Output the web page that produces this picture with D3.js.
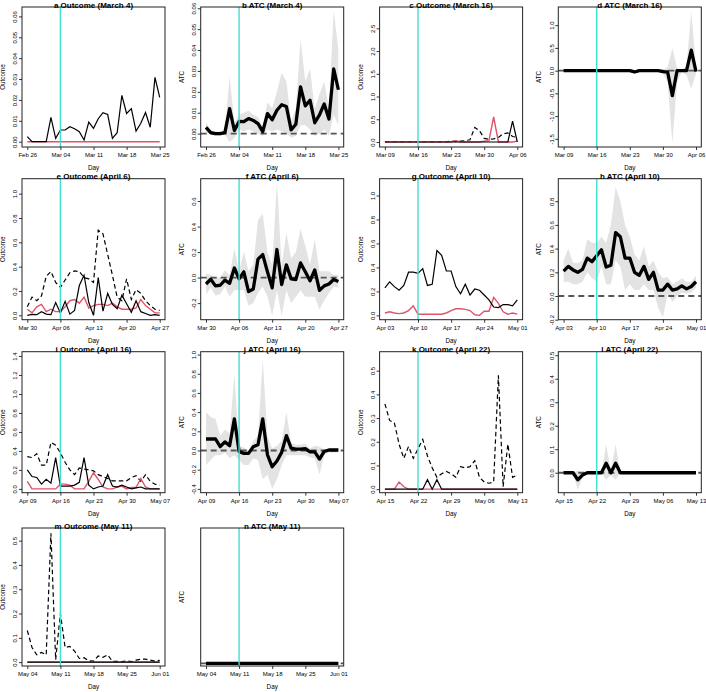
<!DOCTYPE html>
<html>
<head>
<meta charset="utf-8">
<script src="https://cdn.jsdelivr.net/npm/d3@7/dist/d3.min.js"></script>
<style>
  body { margin: 0; background: #fff; }
  svg text { font-family: "Liberation Sans", Arial, Helvetica, sans-serif; }
</style>
</head>
<body>
<div id="d3-cont"></div>
<script>
// values, one per day (29 days per panel)
const aSolid = [0.0024, 0, 0, 0, 0, 0.0116, 0.0016, 0.0056, 0.0056, 0.0072, 0.0062, 0.0048, 0.0008, 0.0094, 0.0064, 0.011, 0.0139, 0.013, 0.0016, 0.0043, 0.0222, 0.0135, 0.0158, 0.0051, 0.0088, 0.014, 0.0069, 0.0308, 0.0212];
const aPink  = [0, 0, 0, 0, 0, 0, 0, 0, 0, 0, 0, 0, 0, 0, 0, 0, 0, 0, 0, 0, 0, 0, 0, 0, 0, 0, 0, 0, 0];

const bAtc   = [0.003, 0.0005, 0, 0, 0.0005, 0.012, 0.0015, 0.0058, 0.0057, 0.0072, 0.0063, 0.0048, 0.001, 0.0096, 0.0066, 0.0112, 0.0138, 0.013, 0.0018, 0.0045, 0.0224, 0.0133, 0.016, 0.0052, 0.009, 0.0142, 0.007, 0.031, 0.021];
const bUpper = [0.0055, 0.0015, 0.001, 0.001, 0.0015, 0.0275, 0.005, 0.009, 0.01, 0.011, 0.009, 0.008, 0.003, 0.015, 0.012, 0.02, 0.029, 0.025, 0.006, 0.012, 0.045, 0.025, 0.031, 0.012, 0.019, 0.025, 0.012, 0.059, 0.04];
const bLower = [0.0005, -0.0005, -0.001, -0.001, -0.0005, -0.004, -0.002, 0.002, 0.001, 0.002, 0.001, 0, -0.001, 0.002, 0.001, 0.002, 0.001, 0, -0.002, -0.001, 0.004, 0.004, 0.002, -0.001, 0, 0.002, -0.001, 0.009, 0.004];

const cDash  = [0.005, 0.005, 0.005, 0.005, 0.005, 0.005, 0.005, 0.005, 0.005, 0.005, 0.005, 0.005, 0.005, 0.005, 0.02, 0.01, 0.02, 0.03, 0.05, 0.32, 0.25, 0.08, 0.06, 0.07, 0.1, 0.18, 0.2, 0.12, 0.1];
const cSolid = [0, 0, 0, 0, 0, 0, 0, 0, 0, 0, 0, 0, 0, 0, 0, 0, 0, 0, 0, 0, 0, 0, 0, 0, 0, 0, 0, 0.46, 0];
const cPink  = [0, 0, 0, 0, 0, 0, 0, 0, 0, 0, 0, 0, 0, 0, 0, 0.03, 0, 0, 0, 0, 0, 0.02, 0.03, 0.55, 0, 0, 0, 0, 0.02];

const dAtc   = [0, 0, 0, 0, 0, 0, 0, 0, 0, 0, 0, 0, 0, 0, 0, -0.03, 0, 0, 0, 0, 0, -0.02, -0.03, -0.55, 0, 0, 0, 0.45, -0.02];
const dUpper = [0.01, 0.01, 0.01, 0.01, 0.01, 0.01, 0.01, 0.01, 0.01, 0.01, 0.01, 0.01, 0.01, 0.01, 0.01, 0, 0.01, 0.01, 0.01, 0.01, 0.01, 0.01, 0.08, 0.5, 0.05, 0.02, 0.1, 1.3, 0.1];
const dLower = [-0.01, -0.01, -0.01, -0.01, -0.01, -0.01, -0.01, -0.01, -0.01, -0.01, -0.01, -0.01, -0.01, -0.01, -0.01, -0.06, -0.01, -0.01, -0.01, -0.01, -0.01, -0.05, -0.25, -1.6, -0.25, -0.02, -0.1, -0.4, -0.06];

const eDash  = [0.07, 0.15, 0.12, 0.16, 0.32, 0.36, 0.27, 0.23, 0.29, 0.35, 0.365, 0.36, 0.31, 0.3, 0.27, 0.7, 0.67, 0.5, 0.33, 0.15, 0.12, 0.3, 0.13, 0.21, 0.18, 0.12, 0.08, 0.05, 0.04];
const eSolid = [0, 0.007, 0.005, 0.03, 0.01, 0.005, 0.105, 0.02, 0.115, 0.01, 0.04, 0.245, 0.33, 0.105, 0, 0.31, 0.035, 0.18, 0.09, 0.055, 0.165, 0.095, 0.025, 0.12, 0.03, 0.015, 0, 0.005, 0];
const ePink  = [0.05, 0.02, 0.07, 0.09, 0.03, 0.05, 0.03, 0.03, 0.07, 0.12, 0.13, 0.1, 0.15, 0.06, 0.08, 0.09, 0.09, 0.08, 0.1, 0.07, 0.05, 0.05, 0.05, 0.06, 0.13, 0.08, 0.05, 0.02, 0.02];

const fAtc   = [-0.05, -0.013, -0.065, -0.06, -0.02, -0.045, 0.075, -0.01, 0.045, -0.11, -0.09, 0.145, 0.18, 0.045, -0.08, 0.22, -0.055, 0.1, -0.01, -0.015, 0.115, 0.045, -0.025, 0.06, -0.1, -0.065, -0.05, -0.015, -0.03];
const fUpper = [0.03, 0.02, 0, 0, 0.06, 0.02, 0.23, 0.05, 0.2, 0.05, 0.1, 0.45, 0.5, 0.2, 0.1, 0.75, 0.1, 0.35, 0.15, 0.2, 0.38, 0.25, 0.1, 0.3, 0.05, 0.05, 0.05, 0.02, 0.02];
const fLower = [-0.13, -0.08, -0.14, -0.13, -0.07, -0.15, -0.1, -0.1, -0.1, -0.22, -0.2, -0.12, -0.07, -0.15, -0.3, -0.1, -0.3, -0.1, -0.2, -0.15, -0.1, -0.15, -0.15, -0.15, -0.25, -0.18, -0.12, -0.07, -0.08];

const gSolid = [0.23, 0.28, 0.24, 0.21, 0.25, 0.36, 0.36, 0.35, 0.39, 0.25, 0.26, 0.54, 0.5, 0.37, 0.37, 0.24, 0.18, 0.26, 0.17, 0.22, 0.21, 0.17, 0.13, 0.07, 0.065, 0.09, 0.09, 0.08, 0.13];
const gPink  = [0.02, 0.03, 0.02, 0.015, 0.02, 0.04, 0.08, 0.01, 0.01, 0.01, 0.01, 0.01, 0.01, 0.02, 0.04, 0.055, 0.055, 0.05, 0.04, 0.005, 0, 0.035, 0.035, 0.15, 0.1, 0.03, 0.01, 0.02, 0.01];

const hAtc   = [0.21, 0.25, 0.22, 0.2, 0.225, 0.32, 0.29, 0.34, 0.39, 0.245, 0.26, 0.535, 0.5, 0.32, 0.32, 0.2, 0.175, 0.25, 0.14, 0.2, 0.05, 0.05, 0.1, 0.05, 0.06, 0.085, 0.06, 0.08, 0.12];
const hUpper = [0.3, 0.4, 0.28, 0.28, 0.3, 0.48, 0.45, 0.45, 0.5, 0.45, 0.6, 0.92, 0.8, 0.6, 0.5, 0.35, 0.3, 0.42, 0.25, 0.3, 0.2, 0.15, 0.16, 0.1, 0.12, 0.15, 0.12, 0.12, 0.17];
const hLower = [0.12, 0.12, 0.1, 0.1, 0.12, 0.2, 0.15, 0.12, 0.25, 0.1, 0.1, 0.3, 0.25, 0.05, 0.1, 0.05, 0.05, 0.1, 0.05, 0.05, -0.1, -0.18, 0.02, -0.05, 0, 0.03, 0.02, 0.03, 0.07];

const iDash  = [0.34, 0.33, 0.37, 0.25, 0.25, 0.49, 0.46, 0.38, 0.28, 0.2, 0.15, 0.22, 0.21, 0.2, 0.19, 0.15, 0.13, 0.11, 0.085, 0.085, 0.085, 0.085, 0.12, 0.14, 0.08, 0.15, 0.08, 0.05, 0.04];
const iSolid = [0.2, 0.13, 0.12, 0.05, 0.1, 0.06, 0.33, 0.03, 0.03, 0.03, 0.04, 0.07, 0.33, 0.04, 0, 0.02, 0.03, 0.15, 0.03, 0.02, 0.04, 0.02, 0, 0.01, 0.02, 0, 0, 0, 0];
const iPink  = [0.08, 0, 0, 0, 0, 0, 0, 0.05, 0.05, 0.04, 0, 0, 0, 0.08, 0.17, 0.1, 0.02, 0, 0, 0.02, 0.03, 0, 0.015, 0.015, 0.11, 0.02, 0, 0, 0];

const jAtc   = [0.12, 0.12, 0.12, 0.04, 0.09, 0.05, 0.33, -0.01, -0.03, -0.03, 0.04, 0.06, 0.33, -0.045, -0.17, -0.11, -0.02, 0.155, 0.025, 0.015, 0.015, 0.02, -0.015, -0.015, -0.09, -0.01, 0.005, 0.005, 0.005];
const jUpper = [0.4, 0.35, 0.33, 0.15, 0.22, 0.18, 0.8, 0.05, 0.03, 0, 0.1, 0.15, 0.95, 0.15, 0.02, 0.05, 0.1, 0.4, 0.08, 0.06, 0.06, 0.07, 0.02, 0.05, 0.04, 0.01, 0.02, 0.02, 0.02];
const jLower = [-0.15, -0.1, -0.05, -0.05, -0.02, -0.08, -0.05, -0.1, -0.15, -0.15, -0.08, -0.1, -0.3, -0.25, -0.4, -0.3, -0.15, -0.05, -0.05, -0.05, -0.05, -0.05, -0.07, -0.08, -0.25, -0.05, -0.02, -0.02, -0.02];

const kDash  = [0.36, 0.29, 0.28, 0.19, 0.13, 0.18, 0.13, 0.17, 0.21, 0.14, 0.09, 0.05, 0.065, 0.075, 0.065, 0.05, 0.095, 0.09, 0.095, 0.12, 0.05, 0.03, 0.025, 0.03, 0.48, 0.01, 0.19, 0.05, 0.06];
const kSolid = [0, 0, 0, 0, 0, 0, 0, 0, 0, 0.04, 0, 0.04, 0, 0, 0, 0, 0, 0, 0, 0, 0, 0, 0, 0, 0, 0, 0, 0, 0];
const kPink  = [0, 0, 0, 0.03, 0.01, 0, 0, 0, 0, 0, 0, 0, 0, 0, 0, 0, 0, 0, 0, 0, 0, 0, 0, 0, 0, 0, 0, 0, 0];

const lAtc   = [0, 0, 0, -0.03, -0.01, 0, 0, 0, 0, 0.04, 0, 0.04, 0, 0, 0, 0, 0, 0, 0, 0, 0, 0, 0, 0, 0, 0, 0, 0, 0];
const lUpper = [0, 0, 0, 0.01, 0, 0, 0, 0, 0, 0.12, 0.01, 0.12, 0, 0, 0, 0, 0, 0, 0, 0, 0, 0, 0, 0, 0, 0, 0, 0, 0];
const lLower = [0, 0, 0, -0.075, -0.02, 0, 0, 0, 0, -0.03, -0.01, -0.03, 0, 0, 0, 0, 0, 0, 0, 0, 0, 0, 0, 0, 0, 0, 0, 0, 0];

const mDash  = [0.13, 0.06, 0.03, 0.04, 0.03, 0.53, 0.01, 0.2, 0.06, 0.065, 0.045, 0.015, 0.018, 0.005, 0.004, 0.025, 0.02, 0.03, 0.003, 0.003, 0.002, 0.005, 0.002, 0.008, 0.012, 0.012, 0.008, 0.004, 0.007];
const mSolid = [0, 0, 0, 0, 0, 0, 0, 0, 0, 0, 0, 0, 0, 0, 0, 0, 0, 0, 0, 0, 0, 0, 0, 0, 0, 0, 0, 0, 0];
const mPink  = [0, 0, 0, 0, 0, 0, 0, 0, 0, 0, 0, 0, 0, 0, 0, 0, 0, 0, 0, 0, 0, 0, 0, 0, 0, 0, 0, 0, 0];

const nAtc   = [0, 0, 0, 0, 0, 0, 0, 0, 0, 0, 0, 0, 0, 0, 0, 0, 0, 0, 0, 0, 0, 0, 0, 0, 0, 0, 0, 0, 0];
const nUpper = [0, 0, 0, 0, 0, 0, 0, 0, 0, 0, 0, 0, 0, 0, 0, 0, 0, 0, 0, 0, 0, 0, 0, 0, 0, 0, 0, 0, 0];
const nLower = [0, 0, 0, 0, 0, 0, 0, 0, 0, 0, 0, 0, 0, 0, 0, 0, 0, 0, 0, 0, 0, 0, 0, 0, 0, 0, 0, 0, 0];

// y tick values
const ticksAB = [0, 0.01, 0.02, 0.03, 0.04, 0.05, 0.06];
const ticksC  = [0, 0.5, 1, 1.5, 2, 2.5];
const ticksD  = [-1.5, -1, -0.5, 0, 0.5, 1];
const ticksEG = [0, 0.2, 0.4, 0.6, 0.8, 1];
const ticksF  = [-0.2, 0, 0.2, 0.4, 0.6];
const ticksH  = [-0.2, 0, 0.2, 0.4, 0.6, 0.8];
const ticksI  = [0, 0.2, 0.4, 0.6, 0.8, 1, 1.2, 1.4];
const ticksJ  = [-0.4, -0.2, 0, 0.2, 0.4, 0.6, 0.8, 1];
const ticksKLM = [0, 0.1, 0.2, 0.3, 0.4, 0.5];

const titles = ["a Outcome (March 4)", "b ATC (March 4)", "c Outcome (March 16)", "d ATC (March 16)",
                "e Outcome (April 6)", "f ATC (April 6)", "g Outcome (April 10)", "h ATC (April 10)",
                "i Outcome (April 16)", "j ATC (April 16)", "k Outcome (April 22)", "l ATC (April 22)",
                "m Outcome (May 11)", "n ATC (May 11)"];
const startDates = ["2020-02-26", "2020-03-09", "2020-03-30", "2020-04-03", "2020-04-09", "2020-04-15", "2020-05-04"];
const eventDates = ["2020-03-04", "2020-03-16", "2020-04-06", "2020-04-10", "2020-04-16", "2020-04-22", "2020-05-11"];

const panels = [
    {ylim: [-0.00254, 0.0645], ticks: ticksAB, digits: 2, solid: aSolid, pink: aPink},
    {ylim: [-0.0064, 0.0606], ticks: ticksAB, digits: 2, atc: bAtc, upper: bUpper, lower: bLower},
    {ylim: [-0.11, 2.97], ticks: ticksC, digits: 1, dash: cDash, solid: cSolid, pink: cPink},
    {ylim: [-1.68, 1.4], ticks: ticksD, digits: 1, atc: dAtc, upper: dUpper, lower: dLower},
    {ylim: [-0.036, 1.123], ticks: ticksEG, digits: 1, dash: eDash, solid: eSolid, pink: ePink},
    {ylim: [-0.33, 0.775], ticks: ticksF, digits: 1, atc: fAtc, upper: fUpper, lower: fLower},
    {ylim: [-0.036, 1.14], ticks: ticksEG, digits: 1, solid: gSolid, pink: gPink},
    {ylim: [-0.2, 0.99], ticks: ticksH, digits: 1, atc: hAtc, upper: hUpper, lower: hLower},
    {ylim: [-0.04, 1.445], ticks: ticksI, digits: 1, dash: iDash, solid: iSolid, pink: iPink},
    {ylim: [-0.44, 1.03], ticks: ticksJ, digits: 1, atc: jAtc, upper: jUpper, lower: jLower},
    {ylim: [-0.015, 0.58], ticks: ticksKLM, digits: 1, dash: kDash, solid: kSolid, pink: kPink},
    {ylim: [-0.085, 0.515], ticks: ticksKLM, digits: 1, atc: lAtc, upper: lUpper, lower: lLower},
    {ylim: [-0.016, 0.552], ticks: ticksKLM, digits: 1, dash: mDash, solid: mSolid, pink: mPink},
    {ylim: [-0.02, 1], ticks: null, digits: 1, atc: nAtc, upper: nUpper, lower: nLower}
];

// layout of the 4x4 grid (plot boxes)
const colLeft = [22, 200.7, 379.6, 558.3];
const rowTop = [7, 178.7, 351.7, 528];
const rowH = [140, 141, 141, 138];
const boxW = 143;

const parseDay = d3.utcParse("%Y-%m-%d");
const dayFmt = d3.utcFormat("%b %d");

const svg = d3.select("#d3-cont")
    .append("svg")
    .attr("width", 706)
    .attr("height", 692);

function styleAxis(sel) {
    sel.attr("font-size", null).attr("font-family", null);
    sel.select(".domain").remove();
    sel.selectAll(".tick line").attr("stroke", "#000").attr("stroke-width", 0.8);
    sel.selectAll(".tick text").attr("fill", "#000").style("font-size", "6px");
}

panels.forEach((p, i) => {
    const col = i % 4, row = Math.floor(i / 4);
    const left = colLeft[col], top = rowTop[row], h = rowH[row], w = boxW;
    const pair = Math.floor(i / 2);
    const start = parseDay(startDates[pair]);
    const event = parseDay(eventDates[pair]);
    const main = p.solid || p.atc;
    const days = main.map((d, k) => d3.utcDay.offset(start, k));
    const first = days[0], last = days[days.length - 1];
    const pad = 0.04 * (last - first);

    const x = d3.scaleUtc()
        .domain([new Date(+first - pad), new Date(+last + pad)])
        .range([left, left + w]);
    const y = d3.scaleLinear()
        .domain(p.ylim)
        .range([top + h, top]);

    const line = d3.line().x((d, k) => x(days[k])).y(d => y(d));

    svg.append("clipPath").attr("id", "clip" + i)
        .append("rect")
        .attr("x", left).attr("y", top).attr("width", w).attr("height", h);

    const g = svg.append("g");
    const plot = g.append("g").attr("clip-path", `url(#clip${i})`);

    if (p.atc) {
        // confidence band
        const area = d3.area()
            .x((d, k) => x(days[k]))
            .y0((d, k) => y(p.lower[k]))
            .y1((d, k) => y(p.upper[k]));
        plot.append("path").datum(p.atc)
            .attr("d", area)
            .attr("fill", "#e3e3e3");
        plot.append("line")
            .attr("x1", left).attr("x2", left + w)
            .attr("y1", y(0)).attr("y2", y(0))
            .attr("stroke", "#555").attr("stroke-width", 1.8)
            .attr("stroke-dasharray", "6,4");
        plot.append("path").datum(p.atc)
            .attr("d", line)
            .attr("fill", "none")
            .attr("stroke", "#000")
            .attr("stroke-width", 3.3)
            .attr("stroke-linejoin", "round");
    } else {
        if (p.dash) {
            plot.append("path").datum(p.dash)
                .attr("d", line)
                .attr("fill", "none")
                .attr("stroke", "#000")
                .attr("stroke-width", 1.2)
                .attr("stroke-dasharray", "4.5,3");
        }
        plot.append("path").datum(p.pink)
            .attr("d", line)
            .attr("fill", "none")
            .attr("stroke", "#DF536B")
            .attr("stroke-width", 1.4);
        plot.append("path").datum(p.solid)
            .attr("d", line)
            .attr("fill", "none")
            .attr("stroke", "#000")
            .attr("stroke-width", 1.2);
    }

    // intervention day
    plot.append("line")
        .attr("x1", x(event)).attr("x2", x(event))
        .attr("y1", top).attr("y2", top + h)
        .attr("stroke", "#40E0D0")
        .attr("stroke-width", 1.4);

    // axes
    const xAxis = d3.axisBottom(x)
        .tickValues(days.filter((d, k) => k % 7 === 0))
        .tickFormat(dayFmt)
        .tickSize(3)
        .tickPadding(3);
    g.append("g")
        .attr("transform", `translate(0, ${top + h})`)
        .call(xAxis)
        .call(styleAxis);

    if (p.ticks) {
        const yAxis = d3.axisLeft(y)
            .tickValues(p.ticks)
            .tickFormat(v => v.toFixed(p.digits))
            .tickSize(3);
        const ya = g.append("g")
            .attr("transform", `translate(${left}, 0)`)
            .call(yAxis)
            .call(styleAxis);
        ya.selectAll(".tick text")
            .attr("x", 0).attr("y", -4.8).attr("dy", 0)
            .attr("text-anchor", "middle")
            .attr("transform", "rotate(-90)");
    }

    g.append("rect")
        .attr("x", left).attr("y", top)
        .attr("width", w).attr("height", h)
        .attr("fill", "none")
        .attr("stroke", "#222")
        .attr("stroke-width", 1);

    g.append("text")
        .attr("x", left + w / 2).attr("y", top + 0.5)
        .attr("text-anchor", "middle")
        .attr("font-weight", "bold")
        .style("font-size", "8px")
        .text(titles[i]);

    g.append("text")
        .attr("x", left + w / 2).attr("y", top + h + 23)
        .attr("text-anchor", "middle")
        .style("font-size", "6.3px")
        .text("Day");

    g.append("text")
        .attr("transform", `translate(${left - 17}, ${top + h / 2}) rotate(-90)`)
        .attr("text-anchor", "middle")
        .style("font-size", "6.3px")
        .text(p.atc ? "ATC" : "Outcome");
});
</script>
</body>
</html>
